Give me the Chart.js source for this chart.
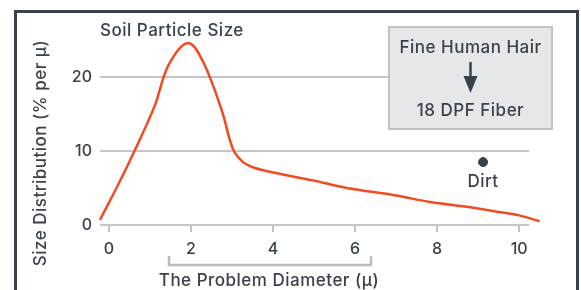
<!DOCTYPE html>
<html>
<head>
<meta charset="utf-8">
<script src="https://cdn.jsdelivr.net/npm/chart.js@4"></script>
<style>
  html, body { margin: 0; padding: 0; background: #fff; }
  #wrap { width: 581px; height: 290px; }
</style>
</head>
<body>
<div id="wrap"><canvas id="myChart" width="581" height="290"></canvas></div>
<script>
// data
const diameter = [-0.22, 0.2, 0.63, 1.12, 1.45, 1.93, 2.3, 2.76, 3.02, 3.27, 3.56, 4.0, 5.0, 5.8, 7.0, 7.83, 8.8, 9.46, 10.0, 10.5];
const soilSize = [0.7, 5.2, 10.1, 16.2, 21.6, 24.6, 22.0, 15.3, 10.3, 8.5, 7.7, 7.1, 6.0, 5.0, 4.0, 3.1, 2.4, 1.8, 1.3, 0.5];
const dirtPoint = [{ x: 9.12, y: 8.5 }];
const yTicks = [0, 10, 20];
const xTicks = [0, 2, 4, 6, 8, 10];

const ink = "#38424d";
const grey = "#c3c4c7";
const font = "Inter, sans-serif";

const soilPoints = diameter.map((d, i) => ({ x: d, y: soilSize[i] }));

// frame, titles, bracket and the hair/fiber box
const extras = {
  id: "extras",
  beforeDraw(c) {
    const ctx = c.ctx;
    ctx.save();
    ctx.strokeStyle = ink;
    ctx.lineWidth = 3;
    ctx.beginPath();
    ctx.moveTo(15.5, 300);
    ctx.lineTo(15.5, 11.5);
    ctx.lineTo(577.5, 11.5);
    ctx.lineTo(577.5, 300);
    ctx.stroke();
    ctx.restore();
  },
  afterDraw(c) {
    const ctx = c.ctx;
    ctx.save();
    ctx.fillStyle = ink;
    ctx.font = "500 17px " + font;
    ctx.letterSpacing = "0.5px";
    ctx.textBaseline = "middle";

    ctx.textAlign = "left";
    ctx.fillText("Soil Particle Size", 100, 31);

    ctx.textAlign = "center";
    ctx.fillText("The Problem Diameter (µ)", 269, 281);
    ctx.fillText("Dirt", 483, 182);

    ctx.save();
    ctx.translate(41, 153);
    ctx.rotate(-Math.PI / 2);
    ctx.fillText("Size Distribution (% per µ)", 0, 0);
    ctx.restore();

    // bracket under the x axis
    ctx.strokeStyle = "#b9bbbe";
    ctx.lineWidth = 2.5;
    ctx.beginPath();
    ctx.moveTo(169, 256);
    ctx.lineTo(169, 265);
    ctx.lineTo(371, 265);
    ctx.lineTo(371, 256);
    ctx.stroke();

    // box
    ctx.fillStyle = "#e6e7e9";
    ctx.fillRect(388, 26, 165, 104);
    ctx.strokeStyle = "#c2c3c6";
    ctx.lineWidth = 2;
    ctx.strokeRect(389, 27, 163, 102);

    ctx.fillStyle = ink;
    ctx.fillText("Fine Human Hair", 470.5, 47.5);
    ctx.fillText("18 DPF Fiber", 470.5, 110.5);

    ctx.strokeStyle = ink;
    ctx.lineWidth = 2.5;
    ctx.beginPath();
    ctx.moveTo(470.5, 62);
    ctx.lineTo(470.5, 80);
    ctx.stroke();
    ctx.beginPath();
    ctx.moveTo(463.5, 76);
    ctx.lineTo(477.5, 76);
    ctx.lineTo(470.5, 93);
    ctx.closePath();
    ctx.fill();
    ctx.restore();
  }
};

new Chart(document.getElementById("myChart"), {
  type: "line",
  data: {
    datasets: [
      {
        label: "Soil Particle Size",
        data: soilPoints,
        borderColor: "#f24a22",
        borderWidth: 2.5,
        tension: 0.35,
        pointRadius: 0,
        clip: false,
      },
      {
        label: "Dirt",
        type: "scatter",
        data: dirtPoint,
        backgroundColor: ink,
        borderColor: ink,
        pointRadius: 4.5,
        clip: false,
      },
    ],
  },
  options: {
    responsive: false,
    animation: false,
    layout: { padding: { top: 77, right: 52, left: 0, bottom: 0 } },
    plugins: {
      legend: { display: false },
      tooltip: { enabled: false },
    },
    scales: {
      x: {
        type: "linear",
        min: -0.22,
        max: 10.24,
        afterBuildTicks: (s) => { s.ticks = xTicks.map((v) => ({ value: v })); },
        afterFit: (s) => { s.height = 65; },
        border: { display: false },
        grid: { drawOnChartArea: false, drawTicks: true, tickLength: 7, color: grey, lineWidth: 2 },
        ticks: { color: ink, font: { family: font, size: 16, weight: 500 }, padding: 8, maxRotation: 0 },
      },
      y: {
        min: 0,
        max: 20,
        afterBuildTicks: (s) => { s.ticks = yTicks.map((v) => ({ value: v })); },
        afterFit: (s) => { s.width = 100; },
        border: { display: false },
        grid: { drawTicks: false, color: grey, lineWidth: 2 },
        ticks: { color: ink, font: { family: font, size: 16, weight: 500 }, padding: 8 },
      },
    },
  },
  plugins: [extras],
});
</script>
</body>
</html>
